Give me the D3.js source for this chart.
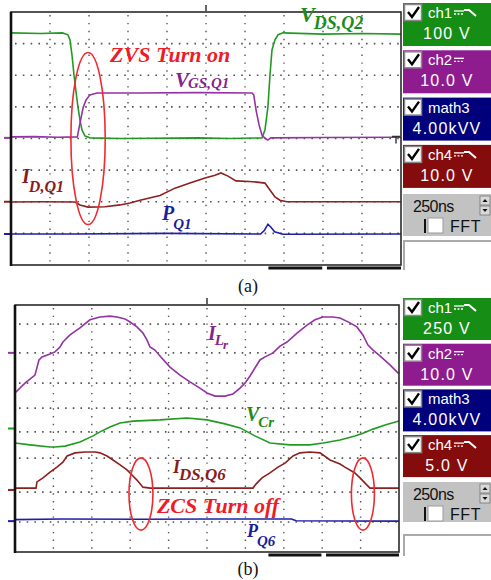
<!DOCTYPE html>
<html>
<head>
<meta charset="utf-8">
<script src="https://cdn.jsdelivr.net/npm/d3@7"></script>
<style>
  body { margin: 0; background: #fff; }
  svg { display: block; }
</style>
</head>
<body>
<svg id="chart" width="491" height="580"></svg>
<script>
// time in ns (250 ns/div, 10 div), level in divisions (-4 .. 4, 0 = screen centre)

// ---- panel (a) ----
const vdsQ2 = [[0,3.34],[190,3.32],[330,3.34],[365,3.28],[378,3.12],[391,2.64],[404,2.0],[417,1.47],[429,1.0],[442,0.59],[455,0.27],[474,0.08],[506,0.02],[700,0.0],[900,0.01],[1200,0.02],[1400,0.0],[1609,0.02],[1628,0.27],[1647,1.0],[1660,2.0],[1673,2.8],[1692,3.12],[1712,3.28],[1744,3.34],[2000,3.3],[2250,3.32],[2500,3.3]];
const vgsQ1 = [[0,0.05],[150,0.06],[300,0.04],[425,0.05],[436,0.33],[449,0.65],[462,0.97],[481,1.22],[506,1.38],[551,1.44],[800,1.44],[1200,1.45],[1545,1.44],[1556,1.38],[1571,0.9],[1590,0.43],[1609,0.11],[1630,0.0],[1647,-0.05],[1665,0.02],[2000,0.03],[2500,0.04]];
const idQ1 = [[0,-2.01],[200,-2.0],[410,-2.01],[442,-2.1],[494,-2.17],[603,-2.16],[699,-2.1],[763,-2.04],[827,-1.95],[955,-1.8],[1051,-1.57],[1147,-1.41],[1244,-1.25],[1308,-1.16],[1346,-1.09],[1391,-1.19],[1442,-1.34],[1526,-1.36],[1577,-1.38],[1628,-1.41],[1660,-1.63],[1692,-1.85],[1724,-1.95],[1769,-2.0],[2100,-2.0],[2500,-2.0]];
const pQ1 = [[0,-3.02],[400,-3.02],[1000,-3.0],[1600,-3.02],[1625,-2.9],[1647,-2.71],[1665,-2.8],[1690,-2.95],[1744,-3.03],[2500,-3.02]];
const zvsMark = [{t: 494, v: 0.0, rt: 110, rv: 2.72}];

// ---- panel (b) ----
const iLr = [[0,1.15],[65,1.47],[130,1.73],[156,2.22],[176,2.32],[228,2.41],[260,2.48],[293,2.64],[312,2.8],[358,3.03],[423,3.26],[488,3.52],[553,3.61],[618,3.64],[664,3.61],[716,3.55],[749,3.45],[794,3.29],[833,3.09],[859,2.87],[879,2.64],[911,2.54],[944,2.35],[1009,1.99],[1074,1.73],[1139,1.51],[1204,1.31],[1250,1.15],[1302,1.05],[1367,1.05],[1419,1.12],[1465,1.31],[1497,1.47],[1530,1.7],[1562,1.96],[1595,2.22],[1628,2.32],[1680,2.45],[1725,2.67],[1771,2.8],[1836,3.09],[1901,3.35],[1953,3.52],[2005,3.61],[2070,3.61],[2116,3.58],[2181,3.42],[2226,3.29],[2265,3.03],[2298,2.7],[2331,2.54],[2376,2.35],[2441,2.06],[2500,1.77]];
const vCr = [[0,-0.47],[98,-0.53],[228,-0.6],[260,-0.6],[326,-0.57],[423,-0.44],[508,-0.24],[553,-0.11],[618,0.05],[684,0.18],[768,0.24],[944,0.28],[1120,0.34],[1250,0.28],[1367,0.15],[1465,0.02],[1562,-0.24],[1660,-0.47],[1790,-0.53],[1920,-0.53],[2005,-0.47],[2116,-0.37],[2213,-0.24],[2265,-0.15],[2331,-0.02],[2409,0.11],[2500,0.24]];
const idsQ6 = [[0,-1.93],[137,-1.93],[143,-1.73],[182,-1.6],[228,-1.41],[273,-1.25],[312,-1.09],[339,-0.89],[391,-0.79],[456,-0.76],[521,-0.76],[553,-0.79],[599,-0.89],[638,-1.02],[684,-1.18],[729,-1.34],[768,-1.54],[794,-1.67],[833,-1.9],[879,-1.93],[1204,-1.93],[1549,-1.93],[1569,-1.8],[1608,-1.6],[1660,-1.44],[1712,-1.25],[1758,-1.12],[1810,-0.89],[1855,-0.79],[1920,-0.76],[1986,-0.79],[2051,-1.02],[2116,-1.15],[2148,-1.25],[2213,-1.44],[2246,-1.6],[2279,-1.77],[2311,-1.93],[2500,-1.93]];
const pQ6 = [[0,-2.95],[300,-2.93],[800,-2.94],[1300,-2.93],[1800,-2.93],[1830,-2.99],[2500,-3.0]];
const zcsMarks = [{t: 820, v: -2.12, rt: 78, rv: 1.17}, {t: 2265, v: -2.12, rt: 75, rv: 1.17}];

// grid
const timeTicks = d3.range(250, 2500, 250);
const rowsA = [-3, -2, -1, 0, 1, 2, 3];
const rowsB = [3.38, 2.45, 1.47, 0.66, -0.11, -0.96, -2.06, -3.03];

// labels: [main, sub, subsub], anchored at (t, v)
const labelsA = [
  {parts: ["ZVS Turn on"], t: 635, v: 2.43, kind: "note"},
  {parts: ["V", "GS,Q1"], t: 1051, v: 1.62, kind: "purple"},
  {parts: ["V", "DS,Q2"], t: 1853, v: 3.69, kind: "green"},
  {parts: ["I", "D,Q1"], t: 71, v: -1.41, kind: "red"},
  {parts: ["P", "Q1"], t: 968, v: -2.59, kind: "blue"}
];
const labelsB = [
  {parts: ["I", "L", "r"], t: 1256, v: 2.87, kind: "purple"},
  {parts: ["V", "Cr"], t: 1504, v: 0.24, kind: "green"},
  {parts: ["I", "DS,Q6"], t: 1029, v: -1.44, kind: "red"},
  {parts: ["ZCS Turn off"], t: 924, v: -2.74, kind: "note"},
  {parts: ["P", "Q6"], t: 1510, v: -3.51, kind: "blue"}
];

// scope side panel
const chNames = ["ch1", "ch2", "math3", "ch4"];
const chScalesA = ["100 V", "10.0 V", "4.00kVV", "10.0 V"];
const chScalesB = ["250 V", "10.0 V", "4.00kVV", "5.0 V"];
const timebase = "250ns";

const col = {
  green: "#229a22", purple: "#9433a3", red: "#8c2020", blue: "#1f1fa8", note: "#f02a30",
  boxGreen: "#168e16", boxPurple: "#8e1c8e", boxNavy: "#00007c", boxRed: "#850c0c", gray: "#c2c2c2"
};
const labelCol = {green: "#1d8c1d", purple: "#86238f", red: "#8a1c1c", blue: "#1c1c9c", note: "#ee1c28"};
const chCols = [col.boxGreen, col.boxPurple, col.boxNavy, col.boxRed];

const svg = d3.select("#chart");

function drawPanel(cfg) {
  const x = d3.scaleLinear().domain([0, 2500]).range([cfg.left, cfg.right]);
  const y = d3.scaleLinear().domain([-4, 4]).range([cfg.bottom, cfg.top]);
  const g = svg.append("g");
  const divX = x(250) - x(0), divY = y(0) - y(1);

  // dotted grid
  g.selectAll(".vg").data(timeTicks).enter().append("line")
    .attr("x1", d => x(d)).attr("x2", d => x(d))
    .attr("y1", cfg.top + 3).attr("y2", cfg.bottom)
    .attr("stroke", "#555").attr("stroke-width", 1.4)
    .attr("stroke-dasharray", "1.4," + (divY / 4 - 1.4).toFixed(2));
  g.selectAll(".hg").data(cfg.rows).enter().append("line")
    .attr("x1", cfg.left + 4).attr("x2", cfg.right)
    .attr("y1", d => y(d)).attr("y2", d => y(d))
    .attr("stroke", "#555").attr("stroke-width", 1.6)
    .attr("stroke-dasharray", "1.6," + (divX / 5 - 1.6).toFixed(2));

  // traces
  const line = d3.line().x(d => x(d[0])).y(d => y(d[1]));
  cfg.series.forEach(s => {
    g.append("path").datum(s.data).attr("d", line)
      .attr("fill", "none").attr("stroke", col[s.kind]).attr("stroke-width", 1.6);
  });

  // channel markers on the left edge
  cfg.markers.forEach(m => {
    g.append("line").attr("x1", cfg.left - 7).attr("x2", cfg.left - 1)
      .attr("y1", y(m.v)).attr("y2", y(m.v))
      .attr("stroke", col[m.kind]).attr("stroke-width", 2);
  });

  // frame
  g.append("rect").attr("x", cfg.left).attr("y", cfg.top)
    .attr("width", cfg.right - cfg.left).attr("height", cfg.bottom - cfg.top)
    .attr("fill", "none").attr("stroke", "#2a2a2a").attr("stroke-width", 1.6);
  g.append("line").attr("x1", cfg.left).attr("x2", cfg.left)
    .attr("y1", cfg.top).attr("y2", cfg.bottom + 1)
    .attr("stroke", "#111").attr("stroke-width", 2.6);
  // trigger position marker
  g.append("line").attr("x1", x(1250)).attr("x2", x(1250))
    .attr("y1", cfg.top - 7).attr("y2", cfg.top - 1)
    .attr("stroke", "#333").attr("stroke-width", 1.5);
  // zoom bar under the grid
  [[1650, 1995], [2025, 2500]].forEach(r => {
    g.append("line").attr("x1", x(r[0])).attr("x2", x(r[1]))
      .attr("y1", cfg.bottom + 3).attr("y2", cfg.bottom + 3)
      .attr("stroke", "#111").attr("stroke-width", 3);
  });
  if (cfg.trigLevel !== undefined) {
    const ty = y(cfg.trigLevel);
    g.append("path").attr("d", `M${cfg.right - 9},${ty - 2}H${cfg.right - 1}M${cfg.right - 5},${ty - 2}V${ty + 5}`)
      .attr("stroke", "#333").attr("stroke-width", 1.4).attr("fill", "none");
  }

  // ellipses
  g.selectAll(".el").data(cfg.ellipses).enter().append("ellipse")
    .attr("cx", d => x(d.t)).attr("cy", d => y(d.v))
    .attr("rx", d => x(d.t + d.rt) - x(d.t)).attr("ry", d => y(d.v) - y(d.v + d.rv))
    .attr("fill", "none").attr("stroke", col.note).attr("stroke-width", 1.6);

  // labels
  cfg.labels.forEach(l => {
    const sz = cfg.sizes[l.parts.join("")] || [20, 15, 13];
    const txt = g.append("text").attr("x", x(l.t)).attr("y", y(l.v))
      .attr("fill", labelCol[l.kind])
      .style("font-family", "'Liberation Serif', 'Times New Roman', serif")
      .style("font-style", "italic").style("font-weight", "bold");
    l.parts.forEach((p, i) => {
      txt.append("tspan").text(p)
        .attr("dy", i === 0 ? 0 : (i === 1 ? sz[3] || 6 : 4))
        .attr("dx", i === 0 ? 0 : -1)
        .style("font-size", sz[i] + "px");
    });
  });
  return {x, y};
}

function drawSide(cfg) {
  const g = svg.append("g").style("font-family", "'Liberation Sans', Arial, sans-serif");
  const x0 = 403, w = 88;
  chNames.forEach((name, i) => {
    const top = cfg.top + i * cfg.step;
    g.append("rect").attr("x", x0).attr("y", top).attr("width", w).attr("height", cfg.h).attr("fill", chCols[i]);
    // checkbox
    g.append("rect").attr("x", x0 + 1.5).attr("y", top + 1.5).attr("width", 17).attr("height", 16)
      .attr("fill", "#fff").attr("stroke", "#888").attr("stroke-width", 1.5);
    g.append("path").attr("d", `M${x0 + 5},${top + 9} L${x0 + 9},${top + 14} L${x0 + 16},${top + 4}`)
      .attr("fill", "none").attr("stroke", "#000").attr("stroke-width", 2.4);
    g.append("text").attr("x", x0 + 25).attr("y", top + 15).text(name)
      .attr("fill", "#fff").style("font-size", "15px");
    // coupling / slope symbols
    if (name.startsWith("ch")) {
      const sx = x0 + 51;
      g.append("line").attr("x1", sx).attr("x2", sx + 10).attr("y1", top + 8).attr("y2", top + 8)
        .attr("stroke", "#fff").attr("stroke-width", 1.3);
      g.append("line").attr("x1", sx).attr("x2", sx + 10).attr("y1", top + 11).attr("y2", top + 11)
        .attr("stroke", "#fff").attr("stroke-width", 1.3).attr("stroke-dasharray", "2,1.5");
      if (name !== "ch2") {
        g.append("path").attr("d", `M${sx + 10},${top + 7} H${sx + 15} L${sx + 22},${top + 13}`)
          .attr("fill", "none").attr("stroke", "#fff").attr("stroke-width", 2);
      }
    }
    g.append("text").attr("x", x0 + 44).attr("y", top + 36).text(cfg.scales[i])
      .attr("text-anchor", "middle").attr("fill", "#fff")
      .style("font-size", "16px").style("letter-spacing", "1.2px");
  });

  // timebase box
  const gt = cfg.grayTop;
  g.append("rect").attr("x", x0).attr("y", gt).attr("width", w).attr("height", cfg.grayH).attr("fill", col.gray);
  g.append("text").attr("x", x0 + 10).attr("y", gt + 18).text(timebase)
    .attr("fill", "#111").style("font-size", "16px").style("letter-spacing", "-0.6px");
  [0, 1].forEach(k => {
    const by = gt + 2 + k * 10;
    g.append("rect").attr("x", x0 + 77).attr("y", by).attr("width", 10).attr("height", 9)
      .attr("fill", "#d8d8d8").attr("stroke", "#777").attr("stroke-width", 0.8);
    g.append("path").attr("d", k === 0
        ? `M${x0 + 79.5},${by + 6} L${x0 + 82},${by + 3} L${x0 + 84.5},${by + 6}Z`
        : `M${x0 + 79.5},${by + 3} L${x0 + 82},${by + 6} L${x0 + 84.5},${by + 3}Z`)
      .attr("fill", "#111");
  });
  g.append("line").attr("x1", x0 + 22).attr("x2", x0 + 22).attr("y1", gt + 25).attr("y2", gt + 39)
    .attr("stroke", "#111").attr("stroke-width", 2);
  g.append("rect").attr("x", x0 + 25).attr("y", gt + 24).attr("width", 15).attr("height", 15)
    .attr("fill", "#fff").attr("stroke", "#999").attr("stroke-width", 1);
  g.append("text").attr("x", x0 + 47).attr("y", gt + 38).text("FFT")
    .attr("fill", "#111").style("font-size", "16px").style("letter-spacing", "0.6px");

  // empty box below
  g.append("path").attr("d", `M${x0 + 1},${cfg.whiteBottom} V${cfg.whiteTop} H${x0 + w}`)
    .attr("fill", "none").attr("stroke", "#aaa").attr("stroke-width", 2);
}

drawPanel({
  left: 11, right: 401, top: 12, bottom: 265, rows: rowsA, trigLevel: 0,
  series: [{data: vdsQ2, kind: "green"}, {data: vgsQ1, kind: "purple"}, {data: idQ1, kind: "red"}, {data: pQ1, kind: "blue"}],
  markers: [{v: 0.02, kind: "purple"}, {v: -2.0, kind: "red"}, {v: -3.02, kind: "blue"}],
  ellipses: zvsMark, labels: labelsA,
  sizes: {"ZVS Turn on": [22], "VGS,Q1": [21, 15, 13, 1], "VDS,Q2": [22, 18, 13, 7], "ID,Q1": [20, 16, 13, 9], "PQ1": [20, 15, 13, 9]}
});
drawPanel({
  left: 15, right: 399, top: 305, bottom: 552, rows: rowsB,
  series: [{data: vCr, kind: "green"}, {data: iLr, kind: "purple"}, {data: idsQ6, kind: "red"}, {data: pQ6, kind: "blue"}],
  markers: [{v: 2.45, kind: "purple"}, {v: 0.0, kind: "green"}, {v: -1.99, kind: "red"}, {v: -3.0, kind: "blue"}],
  ellipses: zcsMarks, labels: labelsB,
  sizes: {"ZCS Turn off": [22], "ILr": [20, 15, 13, 5], "VCr": [20, 15, 13, 6], "IDS,Q6": [18, 17, 13, 7], "PQ6": [18, 15, 13, 9]}
});

drawSide({top: 3, step: 47.3, h: 43, scales: chScalesA, grayTop: 194, grayH: 42, whiteTop: 241, whiteBottom: 270});
drawSide({top: 298, step: 45.7, h: 42, scales: chScalesB, grayTop: 482, grayH: 40, whiteTop: 535, whiteBottom: 556});

// captions
[["(a)", 292], ["(b)", 575]].forEach(c => {
  svg.append("text").attr("x", 248).attr("y", c[1]).text(c[0])
    .attr("text-anchor", "middle").attr("fill", "#111")
    .style("font-family", "'Liberation Serif', 'Times New Roman', serif").style("font-size", "18px");
});
</script>
</body>
</html>
